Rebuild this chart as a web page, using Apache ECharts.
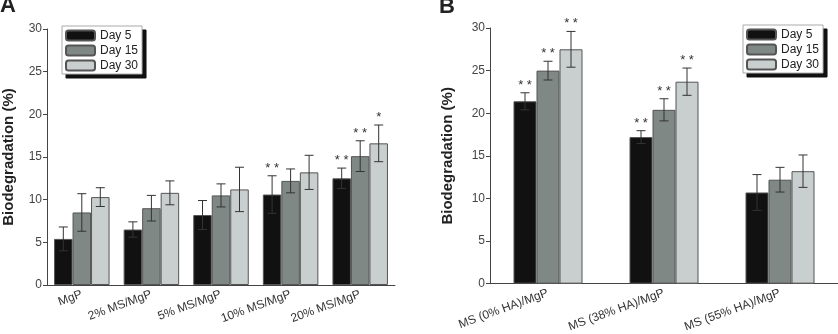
<!DOCTYPE html>
<html>
<head>
<meta charset="utf-8">
<script src="https://cdn.jsdelivr.net/npm/echarts@6/dist/echarts.min.js"></script>
<style>
  html, body { margin: 0; padding: 0; background: #fff; }
  #chart { width: 838px; height: 334px; }
</style>
</head>
<body>
<div id="chart"></div>
<script>
// panel A
var categoriesA = ['MgP', '2% MS/MgP', '5% MS/MgP', '10% MS/MgP', '20% MS/MgP'];
var day5A  = [5.4, 6.5, 8.2, 10.6, 12.5];
var day15A = [8.5, 9.0, 10.5, 12.2, 15.1];
var day30A = [10.3, 10.8, 11.2, 13.2, 16.6];
var err5A  = [1.4, 0.9, 1.7, 2.2, 1.2];
var err15A = [2.2, 1.5, 1.35, 1.4, 1.8];
var err30A = [1.1, 1.4, 2.6, 2.0, 2.15];
var stars5A  = ['', '', '', '* *', '* *'];
var stars15A = ['', '', '', '', '* *'];
var stars30A = ['', '', '', '', '*'];

// panel B
var categoriesB = ['MS (0% HA)/MgP', 'MS (38% HA)/MgP', 'MS (55% HA)/MgP'];
var day5B  = [21.4, 17.2, 10.7];
var day15B = [25.0, 20.4, 12.2];
var day30B = [27.5, 23.7, 13.2];
var err5B  = [1.0, 0.75, 2.1];
var err15B = [1.1, 1.3, 1.45];
var err30B = [2.1, 1.6, 1.9];
var stars5B  = ['* *', '* *', ''];
var stars15B = ['* *', '* *', ''];
var stars30B = ['* *', '* *', ''];

var yTicks = [0, 5, 10, 15, 20, 25, 30];

var names = ['Day 5', 'Day 15', 'Day 30'];
var colors = ['#111111', '#7f8885', '#c9cfcf'];

var chart = echarts.init(document.getElementById('chart'));

function yAxis(grid, gap) {
  return {
    type: 'value', gridIndex: grid,
    min: yTicks[0], max: yTicks[yTicks.length - 1], interval: 5,
    name: 'Biodegradation (%)', nameLocation: 'middle', nameGap: gap,
    nameTextStyle: { fontFamily: 'Liberation Sans', fontWeight: 'bold', fontSize: 15, color: '#222' },
    axisLine: { show: true, lineStyle: { color: '#444' } },
    axisTick: { show: true, length: 4, lineStyle: { color: '#444' } },
    axisLabel: { fontFamily: 'Liberation Sans', fontSize: 12, color: '#444', margin: 5 },
    splitLine: { show: false }
  };
}

function xAxes(grid, cats) {
  return [{
    type: 'category', gridIndex: grid, data: cats,
    axisLine: { lineStyle: { color: '#444' } },
    axisTick: { alignWithLabel: true, length: 5, lineStyle: { color: '#444' } },
    axisLabel: { rotate: 20, interval: 0, margin: 9, fontFamily: 'Liberation Sans', fontSize: 12, color: '#333' }
  }, {
    type: 'category', gridIndex: grid, data: cats,
    axisLine: { show: false },
    axisTick: { length: 3, lineStyle: { color: '#444' } },
    axisLabel: { show: false }
  }];
}

function bars(name, idx, xi, yi, data, bw) {
  return {
    name: name, type: 'bar', xAxisIndex: xi, yAxisIndex: yi,
    data: data, barWidth: bw, barGap: '0%',
    itemStyle: { color: colors[idx], borderColor: '#555', borderWidth: 1 },
    z: 2
  };
}

function errBars(idx, xi, yi, vals, errs, stars, bw) {
  var d = vals.map(function (v, i) { return [i, v, errs[i], stars[i]]; });
  return {
    type: 'custom', xAxisIndex: xi, yAxisIndex: yi, z: 5,
    silent: true,
    data: d,
    renderItem: function (params, api) {
      var c = api.value(0), v = api.value(1), e = api.value(2);
      var s = d[params.dataIndex][3];
      var top = api.coord([c, v + e]);
      var bot = api.coord([c, v - e]);
      var x = top[0] + (idx - 1) * bw;
      var st = { stroke: '#333', lineWidth: 1 };
      var children = [
        { type: 'line', shape: { x1: x, y1: top[1], x2: x, y2: bot[1] }, style: st },
        { type: 'line', shape: { x1: x - 4.5, y1: top[1], x2: x + 4.5, y2: top[1] }, style: st },
        { type: 'line', shape: { x1: x - 4.5, y1: bot[1], x2: x + 4.5, y2: bot[1] }, style: st }
      ];
      if (s) {
        children.push({
          type: 'text',
          style: { x: x, y: top[1] - 1, text: s, align: 'center', verticalAlign: 'bottom',
                   font: '13px "Liberation Sans"', fill: '#333' }
        });
      }
      return { type: 'group', children: children };
    }
  };
}

var legendBase = {
  orient: 'vertical', data: names,
  itemWidth: 29, itemHeight: 10, itemGap: 2,
  padding: [3, 4, 2, 3],
  backgroundColor: '#fff', borderColor: '#aaa', borderWidth: 1,
  textStyle: { fontFamily: 'Liberation Sans', fontSize: 12, lineHeight: 13, color: '#222' },
  selectedMode: false, z: 10
};

// a black copy of the legend, offset, serves as the solid drop shadow
var legendShadow = Object.assign({}, legendBase, {
  backgroundColor: '#111', borderColor: '#111', z: 9,
  itemStyle: { color: '#111', borderColor: '#111' },
  textStyle: { fontFamily: 'Liberation Sans', fontSize: 12, lineHeight: 13, color: '#111' }
});

var series = [
  bars(names[0], 0, 0, 0, day5A, 18.5),
  bars(names[1], 1, 0, 0, day15A, 18.5),
  bars(names[2], 2, 0, 0, day30A, 18.5),
  errBars(0, 0, 0, day5A, err5A, stars5A, 18.5),
  errBars(1, 0, 0, day15A, err15A, stars15A, 18.5),
  errBars(2, 0, 0, day30A, err30A, stars30A, 18.5),
  bars(names[0], 0, 2, 1, day5B, 23),
  bars(names[1], 1, 2, 1, day15B, 23),
  bars(names[2], 2, 2, 1, day30B, 23),
  errBars(0, 2, 1, day5B, err5B, stars5B, 23),
  errBars(1, 2, 1, day15B, err15B, stars15B, 23),
  errBars(2, 2, 1, day30B, err30B, stars30B, 23)
];

var option = {
  animation: false,
  backgroundColor: '#fff',
  grid: [
    { left: 46, top: 29, width: 349, height: 256 },
    { left: 490, top: 28, width: 348, height: 256 }
  ],
  xAxis: xAxes(0, categoriesA).concat(xAxes(1, categoriesB)),
  yAxis: [yAxis(0, 31), yAxis(1, 35)],
  legend: [
    Object.assign({}, legendShadow, { left: 66, top: 30 }),
    Object.assign({}, legendShadow, { left: 747, top: 29 }),
    Object.assign({}, legendBase, { left: 62, top: 26 }),
    Object.assign({}, legendBase, { left: 743, top: 25 })
  ],
  graphic: {
    elements: [
      { type: 'text', left: 0, top: -5, style: { text: 'A', font: 'bold 22px "Liberation Sans"', fill: '#222' } },
      { type: 'text', left: 439, top: -4, style: { text: 'B', font: 'bold 22px "Liberation Sans"', fill: '#222' } }
    ]
  },
  series: series
};
chart.setOption(option);
</script>
</body>
</html>
